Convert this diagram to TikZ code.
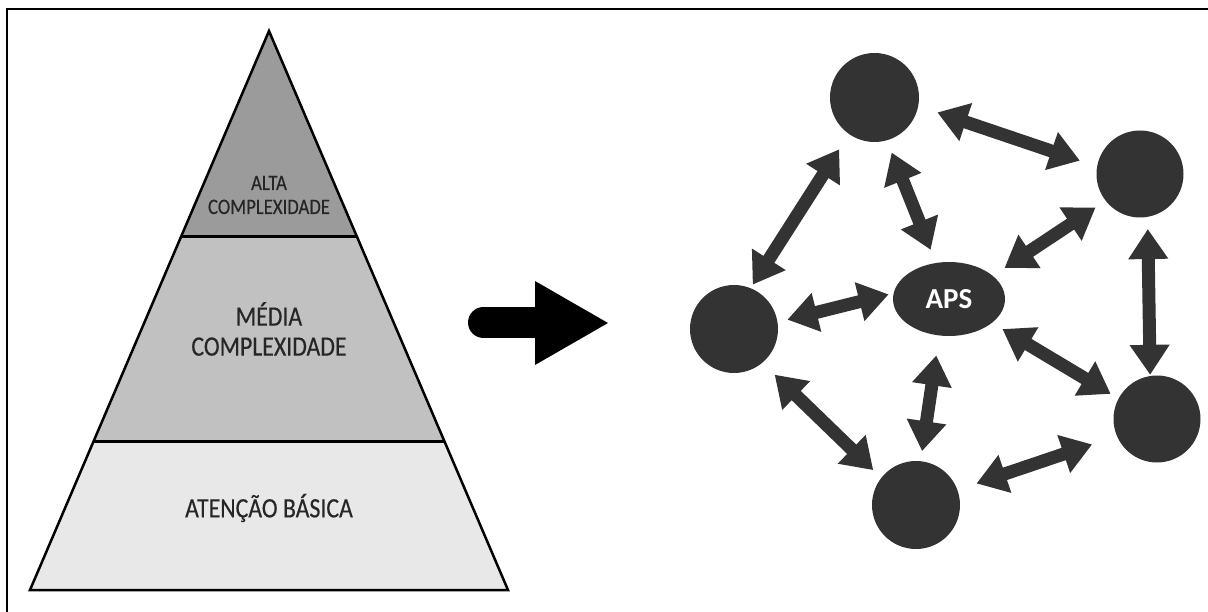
\documentclass[tikz,border=0pt]{standalone}
\usepackage{fontspec}
\setmainfont{Carlito}
\newfontfamily\lblfont[FakeStretch=0.85,FakeBold=0.35]{Carlito}
\usetikzlibrary{arrows.meta,shapes.geometric}
\definecolor{dk}{HTML}{333333}
\definecolor{gtop}{HTML}{9B9B9B}
\definecolor{gmid}{HTML}{C1C1C1}
\definecolor{gbot}{HTML}{E8E8E8}
\definecolor{txt}{HTML}{262626}
\begin{document}
\begin{tikzpicture}[x=1pt,y=-1pt,
  circ/.style={circle, fill=dk, inner sep=0pt, minimum size=#1},
  dbl/.style={draw=dk, line width=13pt, {Triangle[width=38pt,length=30pt]}-{Triangle[width=38pt,length=30pt]}},
  lvl/.style={text=txt, align=center, inner sep=0pt}
]
\useasboundingbox (0,0) rectangle (1208,612);
% frame (top and left edges only)
\draw[line width=2.5pt] (7,612) -- (7,9) -- (1208,9);

% pyramid
\fill[gtop] (269,31) -- (357.1,237) -- (180.9,237) -- cycle;
\fill[gmid] (180.9,237) -- (357.1,237) -- (444.3,441) -- (93.7,441) -- cycle;
\fill[gbot] (93.7,441) -- (444.3,441) -- (508,590) -- (30,590) -- cycle;
\draw[line width=2.5pt, line join=miter] (269,31) -- (508,590) -- (30,590) -- cycle;
\draw[line width=3pt] (180.9,237) -- (357.1,237);
\draw[line width=3pt] (93.7,441) -- (444.3,441);

\node[lvl, font={\lblfont\fontsize{22}{24}\selectfont}] (alta) at (269,195) {ALTA\\COMPLEXIDADE};
\node[lvl, font={\lblfont\fontsize{28}{30}\selectfont}] (media) at (269,329) {MÉDIA\\COMPLEXIDADE};
\node[lvl, font={\lblfont\fontsize{28}{30}\selectfont}] (basica) at (269,508) {ATENÇÃO BÁSICA};

% big black arrow
\draw[line width=31pt, line cap=round] (483.5,322.5) -- (540,322.5);
\fill (535,281) -- (608,323) -- (535,365) -- cycle;

% network
\node[circ=89pt] (top) at (874.5,97.5) {};
\node[circ=87pt] (rt) at (1140,174) {};
\node[circ=88pt] (lf) at (734,329) {};
\node[circ=88pt] (bt) at (916,505) {};
\node[circ=87pt] (rb) at (1157,419) {};
\node[ellipse, fill=dk, inner sep=0pt, minimum width=112pt, minimum height=74pt,
      text=white, font={\bfseries\fontsize{29}{30}\selectfont}] (aps) at (949,299) {APS};

\draw[dbl, shorten <=20pt, shorten >=18pt] (top.-11) -- (rt.170);
\draw[dbl, shorten <=18pt, shorten >=4pt] (top.235) -- (lf.68);
\draw[dbl, shorten <=13pt, shorten >=14pt] (top.-74) -- (aps.110);
\draw[dbl, shorten <=12pt, shorten >=14pt] (rt.218) -- (aps.28);
\draw[dbl, shorten <=12pt, shorten >=1pt] (rt.-80) -- (rb.99);
\draw[dbl, shorten <=10pt, shorten >=5pt] (lf.9) -- (aps.174);
\draw[dbl, shorten <=12pt, shorten >=9pt] (aps.-29) -- (rb.152);
\draw[dbl, shorten <=20pt, shorten >=10pt] (aps.-105) -- (bt.84);
\draw[dbl, shorten <=17pt, shorten >=11pt] (lf.-50) -- (bt.142);
\draw[dbl, shorten <=20pt, shorten >=26pt] (bt.20) -- (rb.203);
\end{tikzpicture}
\end{document}
